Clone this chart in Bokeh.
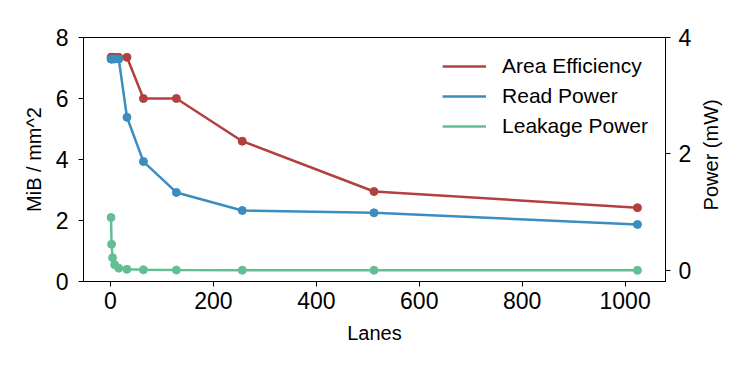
import math
from bokeh.plotting import figure
from bokeh.layouts import row
from bokeh.models import Range1d, LinearAxis, FixedTicker, Legend, LegendItem, ColumnDataSource
from bokeh.core.properties import value
from bokeh.embed import file_html
from bokeh.resources import INLINE

lanes = [1, 2, 4, 8, 16, 32, 64, 128, 256, 512, 1024]
area_eff = [7.35, 7.35, 7.35, 7.35, 7.35, 7.35, 6.0, 6.0, 4.6, 2.95, 2.42]
read_power = [3.63, 3.63, 3.63, 3.63, 3.63, 2.63, 1.87, 1.34, 1.03, 0.99, 0.79]
leak_power = [0.91, 0.45, 0.22, 0.10, 0.04, 0.02, 0.012, 0.008, 0.005, 0.004, 0.003]

left_ticks = [0, 2, 4, 6, 8]
right_ticks = [0, 2, 4]
x_ticks = [0, 200, 400, 600, 800, 1000]

RED = "#b2403f"
BLUE = "#3b8dbf"
GREEN = "#62bf94"
FONT = "Liberation Sans"

src = ColumnDataSource(dict(x=lanes, area=area_eff, read=read_power, leak=leak_power))

p = figure(frame_width=582, frame_height=244, output_backend="svg", toolbar_location=None,
           x_range=Range1d(-52.5, 1078.5), y_range=Range1d(0, 8),
           min_border_left=83, min_border_top=37, min_border_right=30, min_border_bottom=85)
p.extra_y_ranges = {"power": Range1d(-0.189, 4.0)}

p.xgrid.visible = False
p.ygrid.visible = False
p.outline_line_color = "black"
p.outline_line_width = 1
p.outline_line_alpha = 1

def style_axis(ax, ticks):
    ax.ticker = FixedTicker(ticks=ticks)
    ax.major_label_text_font = FONT
    ax.major_label_text_font_size = "23px"
    ax.major_label_text_color = "black"
    ax.axis_label_text_font = FONT
    ax.axis_label_text_font_size = "20px"
    ax.axis_label_text_font_style = "normal"
    ax.axis_label_text_color = "black"
    ax.major_tick_in = 0
    ax.major_tick_out = 5
    ax.minor_tick_in = 0
    ax.minor_tick_out = 0
    ax.axis_line_color = "black"
    ax.major_tick_line_color = "black"

style_axis(p.xaxis[0], x_ticks)
p.xaxis[0].axis_label = "Lanes"
p.xaxis[0].major_label_standoff = 5
p.xaxis[0].axis_label_standoff = 10

style_axis(p.yaxis[0], left_ticks)
p.yaxis[0].axis_label = "MiB / mm^2"
p.yaxis[0].major_label_standoff = 10
p.yaxis[0].axis_label_standoff = 8

rax = LinearAxis(y_range_name="power")
style_axis(rax, right_ticks)
rax.major_label_standoff = 8
p.add_layout(rax, "right")

r1 = p.line("x", "area", source=src, line_color=RED, line_width=2.5)
p.scatter("x", "area", source=src, size=8, fill_color=RED, line_color=RED)
r2 = p.line("x", "read", source=src, line_color=BLUE, line_width=2.5, y_range_name="power")
p.scatter("x", "read", source=src, size=8, fill_color=BLUE, line_color=BLUE, y_range_name="power")
r3 = p.line("x", "leak", source=src, line_color=GREEN, line_width=2.5, y_range_name="power")
p.scatter("x", "leak", source=src, size=8, fill_color=GREEN, line_color=GREEN, y_range_name="power")

legend = Legend(items=[LegendItem(label="Area Efficiency", renderers=[r1]),
                       LegendItem(label="Read Power", renderers=[r2]),
                       LegendItem(label="Leakage Power", renderers=[r3])],
                location="top_right")
legend.border_line_alpha = 0
legend.background_fill_alpha = 0
legend.label_text_font = FONT
legend.label_text_font_size = "21px"
legend.label_text_color = "black"
legend.glyph_width = 44
legend.glyph_height = 20
legend.label_height = 20
legend.label_standoff = 16
legend.spacing = 6
legend.padding = 5
legend.margin = 12
p.add_layout(legend)

# narrow strip on the right holding the right-axis title (reads bottom-to-top)
p2 = figure(width=40, height=366, output_backend="svg", toolbar_location=None,
            x_range=Range1d(0, 40), y_range=Range1d(0, 366),
            min_border_left=0, min_border_right=0, min_border_top=0, min_border_bottom=0)
p2.xaxis.visible = False
p2.yaxis.visible = False
p2.xgrid.visible = False
p2.ygrid.visible = False
p2.outline_line_color = None
p2.text(x=[15], y=[190], text=["Power (mW)"], angle=math.pi / 2,
        text_align="center", text_baseline="middle",
        text_font=value(FONT), text_font_size="20px", text_color="black")

layout = row(p, p2, spacing=0)
open("out.html", "w").write(file_html(layout, INLINE))
